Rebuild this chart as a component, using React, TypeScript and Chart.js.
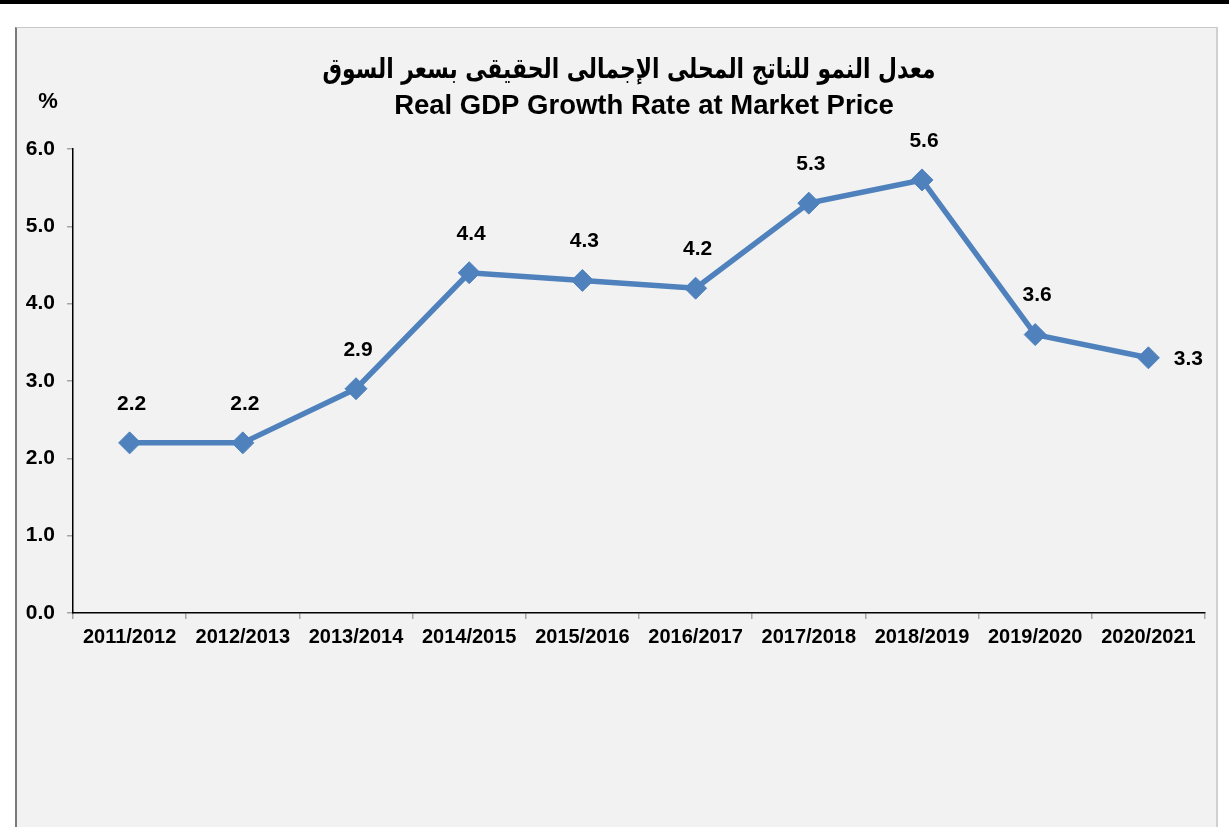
import React, { useEffect, useRef } from "react";
import { Chart, registerables } from "chart.js";

Chart.register(...registerables);

const categories = [
  "2011/2012", "2012/2013", "2013/2014", "2014/2015", "2015/2016",
  "2016/2017", "2017/2018", "2018/2019", "2019/2020", "2020/2021",
];
const growthRate = [2.2, 2.2, 2.9, 4.4, 4.3, 4.2, 5.3, 5.6, 3.6, 3.3];
const titleArabic = "معدل النمو للناتج المحلى الإجمالى الحقيقى بسعر السوق";
const titleEnglish = "Real GDP Growth Rate at Market Price";
const unitLabel = "%";
const yMin = 0;
const yMax = 6;
const yStep = 1;

const FONT = '"Liberation Sans", Arial, sans-serif';

const overlayPlugin = {
  id: "overlayText",
  afterDraw(chart: any) {
    const ctx = chart.ctx;
    ctx.save();
    ctx.fillStyle = "#000";
    ctx.textBaseline = "middle";
    ctx.textAlign = "center";
    // Arabic title, fitted to the reference width
    ctx.font = 'bold 28px "DejaVu Sans", "Liberation Sans", sans-serif';
    ctx.direction = "rtl";
    const w = ctx.measureText(titleArabic).width;
    const targetW = 613;
    const sx = Math.min(1, targetW / w);
    ctx.save();
    ctx.translate(629, 71);
    ctx.scale(sx, 1);
    ctx.fillText(titleArabic, 0, 0);
    ctx.restore();
    ctx.direction = "ltr";
    ctx.font = `bold 27.5px ${FONT}`;
    ctx.fillText(titleEnglish, 644, 106);
    // unit
    ctx.font = `bold 22px ${FONT}`;
    ctx.fillText(unitLabel, 48, 102);
    // data labels
    ctx.font = `bold 21px ${FONT}`;
    const meta = chart.getDatasetMeta(0);
    meta.data.forEach((pt: any, i: number) => {
      const txt = growthRate[i].toFixed(1);
      if (i === meta.data.length - 1) {
        ctx.fillText(txt, pt.x + 40, pt.y + 1);
      } else {
        ctx.fillText(txt, pt.x + 2, pt.y - 39);
      }
    });
    ctx.restore();
  },
};

export default function App() {
  const ref = useRef<HTMLCanvasElement>(null);
  useEffect(() => {
    document.body.style.margin = "0";
    const chart = new Chart(ref.current!, {
      type: "line",
      data: {
        labels: categories,
        datasets: [
          {
            data: growthRate,
            borderColor: "#4f81bd",
            backgroundColor: "#4f81bd",
            borderWidth: 5.5,
            pointStyle: "rectRot",
            pointRadius: 11,
            pointBorderWidth: 1,
            pointBackgroundColor: "#4f81bd",
            pointBorderColor: "#4f81bd",
            tension: 0,
          },
        ],
      },
      options: {
        animation: false,
        responsive: false,
        layout: { padding: { left: 0, right: 24, top: 149, bottom: 0 } },
        plugins: {
          legend: { display: false },
          title: { display: false },
          tooltip: { enabled: false },
        },
        scales: {
          x: {
            offset: true,
            grid: {
              offset: true,
              drawOnChartArea: false,
              color: "#a6a6a6",
              tickLength: 6,
              lineWidth: 1.5,
            },
            border: { color: "#000", width: 1.5 },
            ticks: {
              color: "#000",
              font: { family: FONT, size: 20, weight: "bold" },
              padding: 6,
              maxRotation: 0,
              autoSkip: false,
            },
            afterFit(scale: any) {
              scale.height = 827 - 613;
            },
          },
          y: {
            min: yMin,
            max: yMax,
            grid: {
              drawOnChartArea: false,
              color: "#a6a6a6",
              tickLength: 6,
              lineWidth: 1.5,
            },
            border: { color: "#000", width: 1.5 },
            ticks: {
              stepSize: yStep,
              color: "#000",
              font: { family: FONT, size: 21, weight: "bold" },
              padding: 12,
              callback: (v: any) => Number(v).toFixed(1),
            },
            afterFit(scale: any) {
              scale.width = 73;
            },
          },
        },
      },
      plugins: [overlayPlugin],
    });
    return () => chart.destroy();
  }, []);

  return (
    <div
      style={{
        position: "fixed",
        left: 0,
        top: 0,
        width: 1229,
        height: 827,
        background: "#fff",
        overflow: "hidden",
      }}
    >
      <div style={{ position: "absolute", left: 0, top: 0, width: 1229, height: 4, background: "#000" }} />
      <div
        style={{
          position: "absolute",
          left: 15,
          top: 27,
          width: 1199,
          height: 820,
          background: "#f2f2f2",
          borderLeft: "2px solid #7a7a7a",
          borderTop: "1px solid #c8c8c8",
          borderRight: "2px solid #d0d0d0",
        }}
      />
      <canvas
        ref={ref}
        width={1229}
        height={827}
        style={{ position: "absolute", left: 0, top: 0, width: 1229, height: 827 }}
      />
    </div>
  );
}
